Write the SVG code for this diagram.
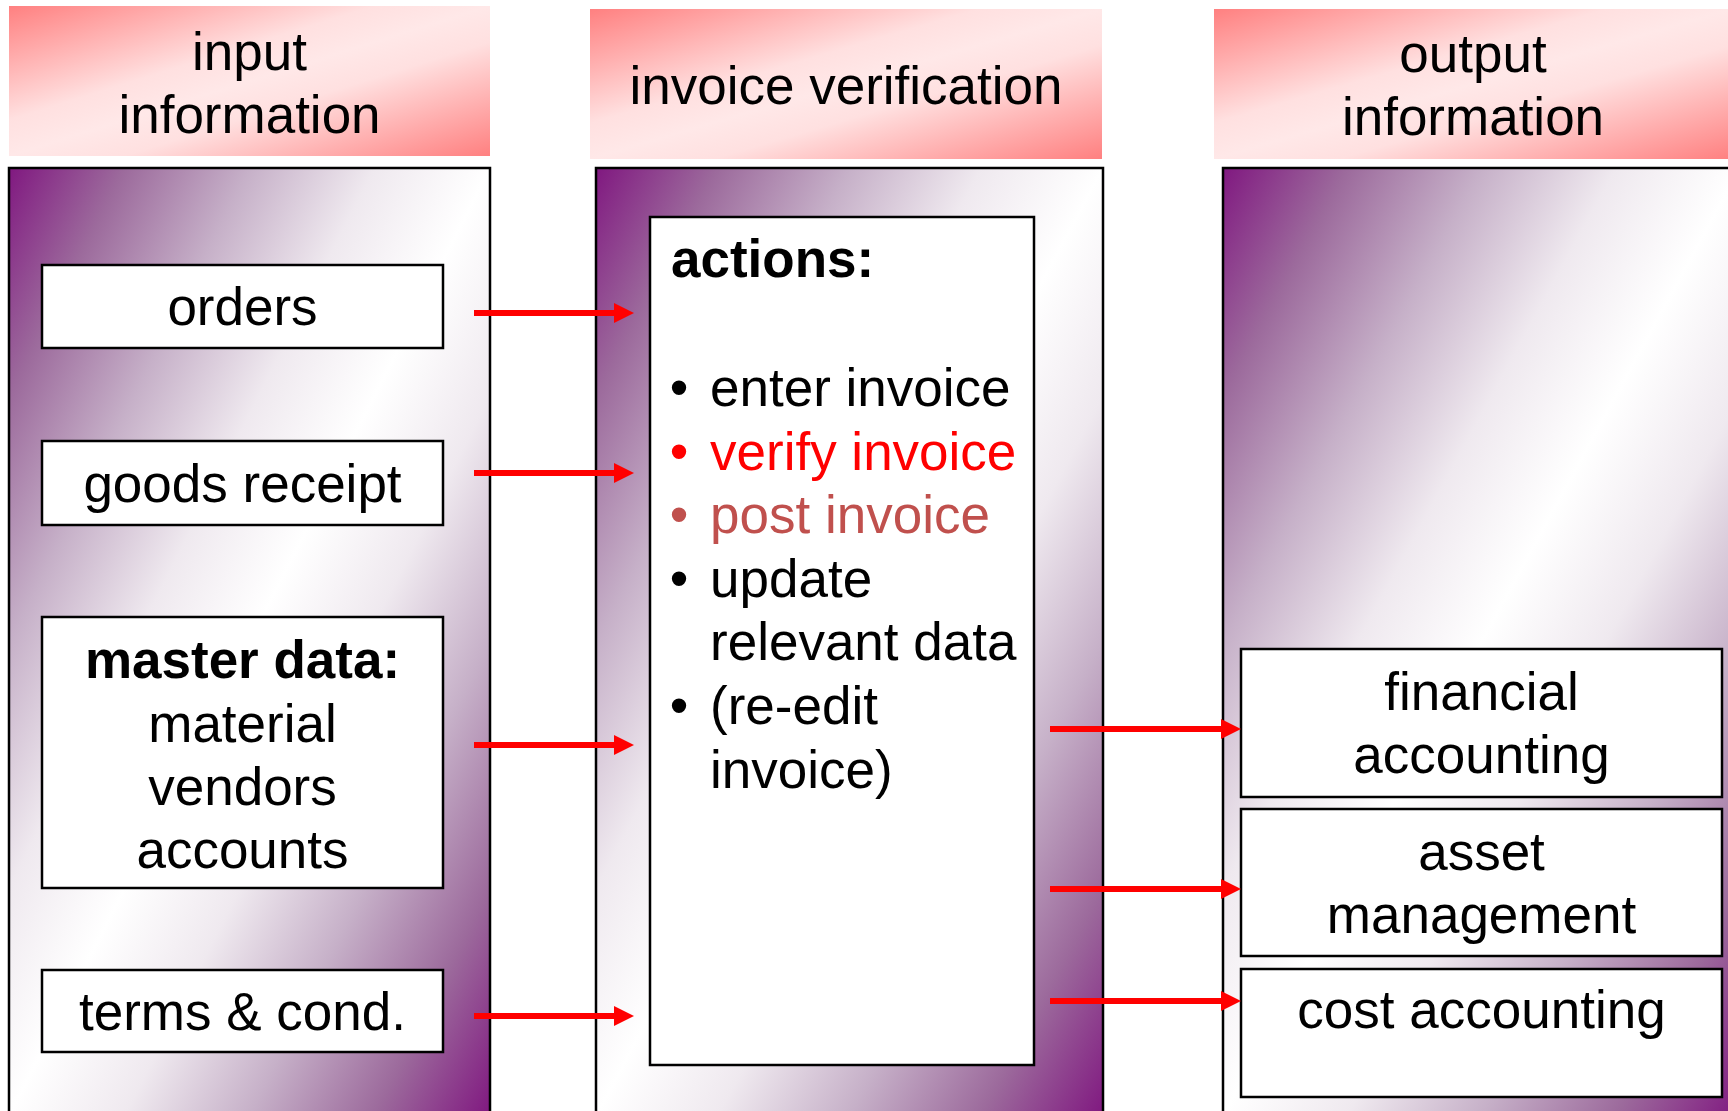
<svg xmlns="http://www.w3.org/2000/svg" width="1728" height="1111" viewBox="0 0 1728 1111">
  <style>
    text { font-family: "Liberation Sans", Arial, sans-serif; font-size: 53px; fill: #000; }
    .c { text-anchor: middle; }
    .b { font-weight: bold; }
    .hdr { fill: url(#hdrGrad); stroke: none; }
    .panel { fill: url(#panelGrad); stroke: #000; stroke-width: 2.5; }
    .box { fill: #fff; stroke: #000; stroke-width: 2.5; }
    .flow { stroke: #ff0000; stroke-width: 6; fill: none; marker-end: url(#arrowHead); }
    .red { fill: #ff0000; }
    .rust { fill: #c0504d; }
  </style>
  <defs>
    <linearGradient id="hdrGrad" x1="0" y1="0" x2="1" y2="1">
      <stop offset="0" stop-color="#ff8080"/>
      <stop offset="0.38" stop-color="#ffe0e0"/>
      <stop offset="0.5" stop-color="#ffe8e8"/>
      <stop offset="0.62" stop-color="#ffe0e0"/>
      <stop offset="1" stop-color="#ff8080"/>
    </linearGradient>
    <linearGradient id="panelGrad" x1="0" y1="0" x2="1" y2="1">
      <stop offset="0" stop-color="#801880"/>
      <stop offset="0.12" stop-color="#9c6a9c"/>
      <stop offset="0.25" stop-color="#c6b0c8"/>
      <stop offset="0.38" stop-color="#efe9ef"/>
      <stop offset="0.5" stop-color="#ffffff"/>
      <stop offset="0.62" stop-color="#efe9ef"/>
      <stop offset="0.75" stop-color="#c6b0c8"/>
      <stop offset="0.88" stop-color="#9c6a9c"/>
      <stop offset="1" stop-color="#801880"/>
    </linearGradient>
    <marker id="arrowHead" markerUnits="userSpaceOnUse" markerWidth="20" markerHeight="20" refX="0" refY="10" orient="auto">
      <path d="M0,0 L20,10 L0,20 Z" fill="#ff0000"/>
    </marker>
  </defs>

  <!-- column: input information -->
  <g id="input-header">
    <rect class="hdr" x="9" y="6" width="481" height="150"/>
    <text class="c" x="249.5" y="70">input</text>
    <text class="c" x="249.5" y="133">information</text>
  </g>
  <g id="input-panel">
    <rect class="panel" x="9" y="168" width="481" height="948"/>
  </g>
  <g id="orders">
    <rect class="box" x="42" y="265" width="401" height="83"/>
    <text class="c" x="242.5" y="325">orders</text>
  </g>
  <g id="goods-receipt">
    <rect class="box" x="42" y="441" width="401" height="84"/>
    <text class="c" x="242.5" y="502">goods receipt</text>
  </g>
  <g id="master-data">
    <rect class="box" x="42" y="617" width="401" height="271"/>
    <text class="c b" x="242.5" y="678">master data:</text>
    <text class="c" x="242.5" y="742">material</text>
    <text class="c" x="242.5" y="805">vendors</text>
    <text class="c" x="242.5" y="868">accounts</text>
  </g>
  <g id="terms-cond">
    <rect class="box" x="42" y="970" width="401" height="82"/>
    <text class="c" x="242.5" y="1030">terms &amp; cond.</text>
  </g>

  <!-- column: invoice verification -->
  <g id="verification-header">
    <rect class="hdr" x="590" y="9" width="512" height="150"/>
    <text class="c" x="846" y="104">invoice verification</text>
  </g>
  <g id="verification-panel">
    <rect class="panel" x="596" y="168" width="507" height="948"/>
  </g>
  <g id="actions">
    <rect class="box" x="650" y="217" width="384" height="848"/>
    <text class="b" x="671" y="277">actions:</text>
    <text class="c" x="679" y="406">•</text>
    <text x="710" y="406">enter invoice</text>
    <text class="c red" x="679" y="469.6">•</text>
    <text class="red" x="710" y="469.6">verify invoice</text>
    <text class="c rust" x="679" y="533.2">•</text>
    <text class="rust" x="710" y="533.2">post invoice</text>
    <text class="c" x="679" y="596.8">•</text>
    <text x="710" y="596.8">update</text>
    <text x="710" y="660.4">relevant data</text>
    <text class="c" x="679" y="724">•</text>
    <text x="710" y="724">(re-edit</text>
    <text x="710" y="787.6">invoice)</text>
  </g>

  <!-- column: output information -->
  <g id="output-header">
    <rect class="hdr" x="1214" y="9" width="518" height="150"/>
    <text class="c" x="1473" y="72">output</text>
    <text class="c" x="1473" y="135">information</text>
  </g>
  <g id="output-panel">
    <rect class="panel" x="1223" y="168" width="517" height="948"/>
  </g>
  <g id="financial-accounting">
    <rect class="box" x="1241" y="649" width="481" height="148"/>
    <text class="c" x="1481.5" y="710">financial</text>
    <text class="c" x="1481.5" y="773">accounting</text>
  </g>
  <g id="asset-management">
    <rect class="box" x="1241" y="809" width="481" height="147"/>
    <text class="c" x="1481.5" y="870">asset</text>
    <text class="c" x="1481.5" y="933">management</text>
  </g>
  <g id="cost-accounting">
    <rect class="box" x="1241" y="969" width="481" height="128"/>
    <text class="c" x="1481.5" y="1028">cost accounting</text>
  </g>

  <!-- data flows -->
  <g id="connectors">
    <line class="flow" x1="474" y1="313" x2="614" y2="313"/>
    <line class="flow" x1="474" y1="473" x2="614" y2="473"/>
    <line class="flow" x1="474" y1="745" x2="614" y2="745"/>
    <line class="flow" x1="474" y1="1016" x2="614" y2="1016"/>
    <line class="flow" x1="1050" y1="729" x2="1221" y2="729"/>
    <line class="flow" x1="1050" y1="889" x2="1221" y2="889"/>
    <line class="flow" x1="1050" y1="1001" x2="1221" y2="1001"/>
  </g>
</svg>
